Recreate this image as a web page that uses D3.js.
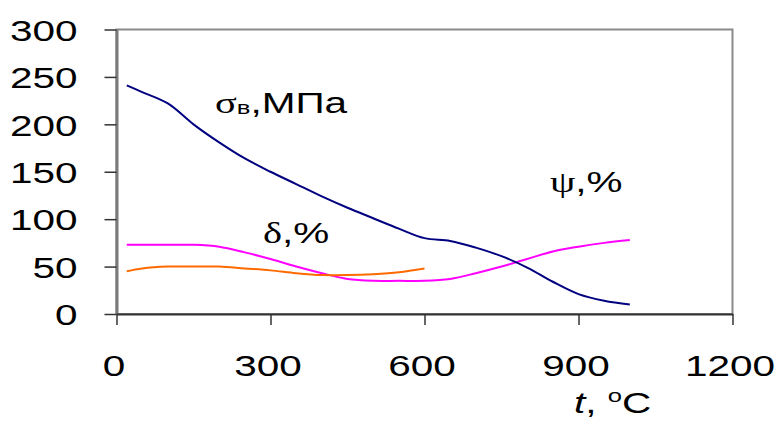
<!DOCTYPE html>
<html><head><meta charset="utf-8">
<script src="https://cdn.jsdelivr.net/npm/d3@7"></script>
<style>body{margin:0;background:#fff}svg{display:block}</style>
</head><body>
<script>
// Data
const temps = [20, 50, 100, 150, 200, 250, 300, 350, 400, 450, 500, 550, 600, 650, 700, 750, 800, 850, 900, 950, 1000];
const sigmaB = [241, 234, 222, 200, 181, 164, 150, 137, 124, 112, 101, 90, 80, 77, 70, 61, 49, 34, 21, 14, 10];
const psi = [73, 73, 73, 73, 71, 65, 58, 50, 43, 37, 35, 35, 35, 37, 43, 50, 58, 66, 71, 75, 78];
const deltaTemps = [20, 50, 100, 150, 200, 250, 300, 350, 400, 450, 500, 550, 600];
const delta = [45, 48, 50, 50, 50, 48, 46, 43, 41, 41, 42, 44, 48];
const xTicks = [0, 300, 600, 900, 1200];
const yTicks = [0, 50, 100, 150, 200, 250, 300];

(function () {
const W = 776, H = 421;
const svg = d3.select("body").append("svg").attr("width", W).attr("height", H);
const mLeft = 116.5, mRight = 732.5, mTop = 29.5, mBottom = 314;
const x = d3.scaleLinear().domain([0, 1200]).range([mLeft, mRight]);
const y = d3.scaleLinear().domain([0, 300]).range([mBottom, mTop]);
const SX = 1.35;
const FONT = "'Liberation Sans', Arial, sans-serif";

// frame
svg.append("rect").attr("x", mLeft).attr("y", mTop).attr("width", mRight - mLeft).attr("height", mBottom - mTop)
  .attr("fill", "none").attr("stroke", "#8a8a8a").attr("stroke-width", 2);

// y axis
const yAxis = svg.append("g").attr("transform", `translate(${mLeft},0)`)
  .call(d3.axisLeft(y).tickValues(yTicks).tickFormat(d3.format("d")).tickSize(12).tickSizeOuter(0));
yAxis.select(".domain").attr("stroke", "#7a7a7a").attr("stroke-width", 3);
yAxis.selectAll(".tick line").attr("stroke", "#333").attr("stroke-width", 1.5);
yAxis.selectAll(".tick text")
  .attr("x", -39 / SX).attr("dy", "0.36em")
  .attr("transform", `scale(${SX},1)`)
  .style("font-family", FONT).style("font-size", "30px").attr("fill", "#000");

// x axis
const xAxis = svg.append("g").attr("transform", `translate(0,${mBottom})`)
  .call(d3.axisBottom(x).tickValues(xTicks).tickFormat(d3.format("d")).tickSize(11).tickSizeOuter(0));
xAxis.select(".domain").attr("stroke", "#333").attr("stroke-width", 2);
xAxis.selectAll(".tick line").attr("stroke", "#333").attr("stroke-width", 1.5);
xAxis.selectAll(".tick text")
  .attr("x", -3 / SX).attr("y", 62).attr("dy", 0)
  .attr("transform", `scale(${SX},1)`)
  .style("font-family", FONT).style("font-size", "30px").attr("fill", "#000");

// lines
const line = d3.line().x(d => x(d[0])).y(d => y(d[1])).curve(d3.curveCatmullRom.alpha(0.5));
function draw(xs, ys, color) {
  svg.append("path").datum(xs.map((t, i) => [t, ys[i]]))
    .attr("d", line).attr("fill", "none").attr("stroke", color).attr("stroke-width", 2);
}
draw(temps, psi, "#ff00ff");
draw(deltaTemps, delta, "#ff6a00");
draw(temps, sigmaB, "#000080");

// labels
function label(px, py) {
  return svg.append("text").attr("transform", `translate(${px},${py}) scale(${SX},1)`)
    .style("font-family", FONT).style("font-size", "30px").attr("fill", "#000");
}
const s = label(215, 113);
s.append("tspan").style("font-family", "'Liberation Serif', serif").text("σ");
s.append("tspan").style("font-size", "19px").attr("dy", 1).text("в");
s.append("tspan").attr("dy", -1).text(",МПа");

const d = label(263, 243);
d.append("tspan").style("font-family", "'Liberation Serif', serif").text("δ");
d.append("tspan").text(",%");

const p = label(550, 192);
p.append("tspan").style("font-family", "'Liberation Serif', serif").text("ψ");
p.append("tspan").text(",%");

const t = label(574, 413);
t.append("tspan").style("font-style", "italic").text("t");
t.append("tspan").text(", ");
t.append("tspan").style("font-size", "19px").attr("dy", -11).text("o");
t.append("tspan").attr("dy", 11).text("C");
})();
</script>
</body></html>
